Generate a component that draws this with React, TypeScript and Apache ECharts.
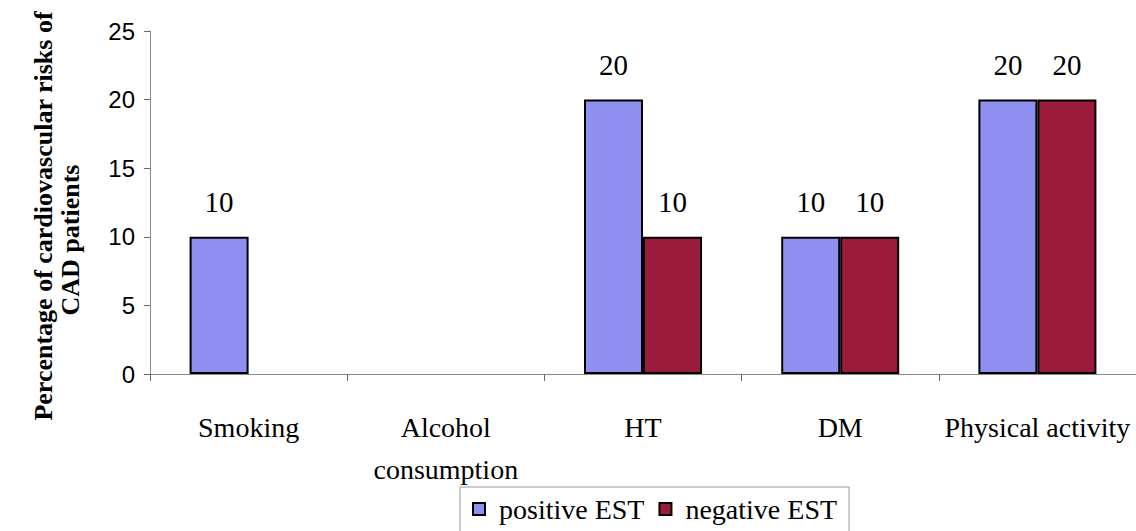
import React, { useEffect, useRef } from "react";
import * as echarts from "echarts";

const categories = ["Smoking", "Alcohol\nconsumption", "HT", "DM", "Physical activity"];
const positiveEST = [10, null, 20, 10, 20];
const negativeEST = [null, null, 10, 10, 20];
const seriesNames = ["positive EST", "negative EST"];
const yTicks = { min: 0, max: 25, interval: 5 };
const yTitleLines = ["Percentage of cardiovascular risks of", "CAD patients"];

export default function App() {
  const ref = useRef<HTMLDivElement>(null);
  useEffect(() => {
    if (!ref.current) return;
    const chart = echarts.init(ref.current, undefined, { renderer: "svg" });
    const serif = "'Liberation Serif', 'Times New Roman', serif";
    const sans = "'Liberation Sans', Arial, sans-serif";
    const labelStyle = {
      show: true,
      position: "top",
      distance: 20,
      fontFamily: serif,
      fontSize: 29,
      color: "#000",
    };
    chart.setOption({
      animation: false,
      backgroundColor: "#fff",
      textStyle: { fontFamily: serif },
      grid: { left: 150, right: -5, top: 31, bottom: 157 },
      xAxis: {
        type: "category",
        data: categories,
        axisLine: { lineStyle: { color: "#888", width: 1 } },
        axisTick: { show: true, length: 7, lineStyle: { color: "#666" } },
        axisLabel: {
          margin: 32,
          fontFamily: serif,
          fontSize: 28,
          color: "#000",
          lineHeight: 42,
          interval: 0,
        },
      },
      yAxis: {
        type: "value",
        min: yTicks.min,
        max: yTicks.max,
        interval: yTicks.interval,
        splitLine: { show: false },
        axisLine: { show: true, lineStyle: { color: "#888", width: 1 } },
        axisTick: { show: true, length: 6, lineStyle: { color: "#666" } },
        axisLabel: { margin: 15, fontFamily: sans, fontSize: 24, color: "#000" },
      },
      legend: {
        left: 460,
        top: 487,
        padding: [8, 12, 14, 12],
        borderColor: "#999",
        borderWidth: 1,
        itemWidth: 12,
        itemHeight: 12,
        itemGap: 14,
        icon: "rect",
        textStyle: { fontFamily: serif, fontSize: 28, color: "#000", padding: [0, 0, 0, 9] },
        data: seriesNames,
      },
      graphic: [
        {
          type: "text",
          x: 43,
          y: 216,
          rotation: Math.PI / 2,
          style: {
            text: yTitleLines[0],
            fontFamily: serif,
            fontWeight: "bold",
            fontSize: 26,
            fill: "#000",
            align: "center",
            verticalAlign: "middle",
          },
        },
        {
          type: "text",
          x: 70,
          y: 240,
          rotation: Math.PI / 2,
          style: {
            text: yTitleLines[1],
            fontFamily: serif,
            fontWeight: "bold",
            fontSize: 26,
            fill: "#000",
            align: "center",
            verticalAlign: "middle",
          },
        },
      ],
      series: [
        {
          name: seriesNames[0],
          type: "bar",
          data: positiveEST,
          barWidth: 59,
          barGap: "0%",
          itemStyle: { color: "#8f8fef", borderColor: "#000", borderWidth: 2 },
          label: labelStyle,
        },
        {
          name: seriesNames[1],
          type: "bar",
          data: negativeEST,
          barWidth: 59,
          barGap: "0%",
          itemStyle: { color: "#9a1b3c", borderColor: "#000", borderWidth: 2 },
          label: labelStyle,
        },
      ],
    });
    return () => chart.dispose();
  }, []);
  return <div ref={ref} style={{ width: 1136, height: 531, position: "absolute", left: 0, top: 0 }} />;
}
